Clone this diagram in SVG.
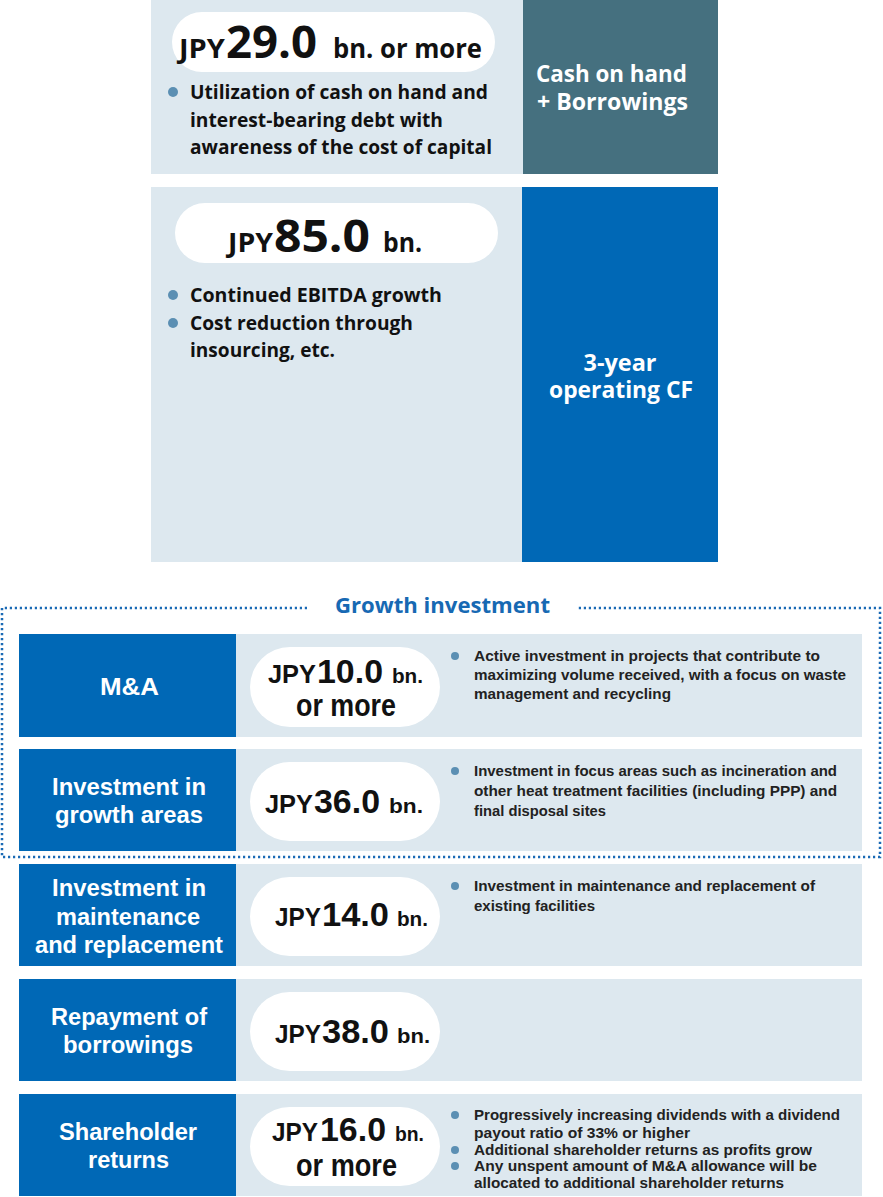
<svg xmlns="http://www.w3.org/2000/svg" width="883" height="1197" viewBox="0 0 883 1197">
<style>
.light{fill:#dde8ef}
.blue{fill:#0068b6}
.teal{fill:#45707f}
.pill{fill:#ffffff}
.dot{fill:#5b8fb3}
.t{font-family:"Open Sans","Liberation Sans",Arial,sans-serif;font-weight:bold;fill:#111}
.tw{font-family:"Open Sans","Liberation Sans",Arial,sans-serif;font-weight:bold;fill:#ffffff;font-size:23px}
.c{font-family:"Liberation Sans",Arial,sans-serif;font-weight:bold;fill:#111}
.cw{font-family:"Liberation Sans",Arial,sans-serif;font-weight:bold;fill:#ffffff;font-size:23.5px}
.d{font-family:"Liberation Sans",Arial,sans-serif;font-weight:bold;fill:#222;font-size:15px}
.gt{font-family:"Open Sans","Liberation Sans",Arial,sans-serif;font-weight:bold;fill:#1769b3;font-size:22px}
</style>
<rect width="883" height="1197" fill="#ffffff"/>

<g id="cash-on-hand">
<rect class="light" x="151" y="0" width="372" height="174"/>
<rect class="teal" x="523" y="0" width="195" height="174"/>
<rect class="pill" x="172" y="12" width="323" height="60" rx="30"/>
<text class="t" x="179" y="58" font-size="27" textLength="46" lengthAdjust="spacingAndGlyphs">JPY</text>
<text class="t" x="226" y="58" font-size="44" textLength="91" lengthAdjust="spacingAndGlyphs">29.0</text>
<text class="t" x="333" y="58" font-size="26" textLength="149" lengthAdjust="spacingAndGlyphs">bn. or more</text>
<circle class="dot" cx="173" cy="92" r="5"/>
<text class="t" x="190" y="99" font-size="19.5" textLength="298" lengthAdjust="spacingAndGlyphs">Utilization of cash on hand and</text>
<text class="t" x="190" y="127" font-size="19.5" textLength="253" lengthAdjust="spacingAndGlyphs">interest-bearing debt with</text>
<text class="t" x="190" y="154" font-size="19.5" textLength="302" lengthAdjust="spacingAndGlyphs">awareness of the cost of capital</text>
<text class="tw" x="536" y="82" textLength="151" lengthAdjust="spacingAndGlyphs">Cash on hand</text>
<text class="tw" x="537" y="110" textLength="151" lengthAdjust="spacingAndGlyphs">+ Borrowings</text>
</g>

<g id="operating-cf">
<rect class="light" x="151" y="187" width="371" height="375"/>
<rect class="blue" x="522" y="187" width="196" height="375"/>
<rect class="pill" x="175" y="203" width="323" height="60" rx="30"/>
<text class="t" x="228" y="252" font-size="27" textLength="45" lengthAdjust="spacingAndGlyphs">JPY</text>
<text class="t" x="274" y="252" font-size="44" textLength="96" lengthAdjust="spacingAndGlyphs">85.0</text>
<text class="t" x="383" y="252" font-size="26" textLength="39" lengthAdjust="spacingAndGlyphs">bn.</text>
<circle class="dot" cx="173" cy="295" r="5"/>
<text class="t" x="190" y="302" font-size="19.5" textLength="252" lengthAdjust="spacingAndGlyphs">Continued EBITDA growth</text>
<circle class="dot" cx="173" cy="323" r="5"/>
<text class="t" x="190" y="330" font-size="19.5" textLength="223" lengthAdjust="spacingAndGlyphs">Cost reduction through</text>
<text class="t" x="190" y="357" font-size="19.5" textLength="145" lengthAdjust="spacingAndGlyphs">insourcing, etc.</text>
<text class="tw" x="620" y="371" text-anchor="middle" textLength="73" lengthAdjust="spacingAndGlyphs">3-year</text>
<text class="tw" x="621" y="398" text-anchor="middle" textLength="144" lengthAdjust="spacingAndGlyphs">operating CF</text>
</g>

<g id="connectors">
<path d="M307,608 H2 V857 H880 V608 H578" fill="none" stroke="#1a6ab5" stroke-width="2.5" stroke-dasharray="2.2 2.8"/>
</g>

<g id="growth-investment-title">
<text class="gt" x="335" y="613" textLength="215" lengthAdjust="spacingAndGlyphs">Growth investment</text>
</g>

<g id="ma">
<rect class="light" x="236" y="634" width="626" height="103"/>
<rect class="blue" x="19" y="634" width="217" height="103"/>
<text class="cw" x="129.5" y="695" text-anchor="middle" font-size="22" textLength="59" lengthAdjust="spacingAndGlyphs">M&amp;A</text>
<rect class="pill" x="250" y="647" width="190" height="80" rx="40"/>
<text class="c" x="268" y="683" font-size="26" textLength="48" lengthAdjust="spacingAndGlyphs">JPY</text>
<text class="c" x="317" y="683" font-size="34" textLength="66" lengthAdjust="spacingAndGlyphs">10.0</text>
<text class="c" x="392" y="683" font-size="21" textLength="31" lengthAdjust="spacingAndGlyphs">bn.</text>
<text class="c" x="296" y="716" font-size="31" textLength="100" lengthAdjust="spacingAndGlyphs">or more</text>
<circle class="dot" cx="455" cy="656" r="4"/>
<text class="d" x="474" y="661" textLength="346" lengthAdjust="spacingAndGlyphs">Active investment in projects that contribute to</text>
<text class="d" x="474" y="680" textLength="372" lengthAdjust="spacingAndGlyphs">maximizing volume received, with a focus on waste</text>
<text class="d" x="474" y="699" textLength="197" lengthAdjust="spacingAndGlyphs">management and recycling</text>
</g>

<g id="growth-areas">
<rect class="light" x="236" y="749" width="626" height="102"/>
<rect class="blue" x="19" y="749" width="217" height="102"/>
<text class="cw" x="129" y="795" text-anchor="middle" textLength="154" lengthAdjust="spacingAndGlyphs">Investment in</text>
<text class="cw" x="129" y="823" text-anchor="middle" textLength="148" lengthAdjust="spacingAndGlyphs">growth areas</text>
<rect class="pill" x="250" y="762" width="190" height="79" rx="39.5"/>
<text class="c" x="265" y="813" font-size="26" textLength="48" lengthAdjust="spacingAndGlyphs">JPY</text>
<text class="c" x="314" y="813" font-size="34" textLength="66" lengthAdjust="spacingAndGlyphs">36.0</text>
<text class="c" x="389" y="813" font-size="21" textLength="34" lengthAdjust="spacingAndGlyphs">bn.</text>
<circle class="dot" cx="455" cy="771" r="4"/>
<text class="d" x="474" y="776" textLength="363" lengthAdjust="spacingAndGlyphs">Investment in focus areas such as incineration and</text>
<text class="d" x="474" y="796" textLength="363" lengthAdjust="spacingAndGlyphs">other heat treatment facilities (including PPP) and</text>
<text class="d" x="474" y="816" textLength="132" lengthAdjust="spacingAndGlyphs">final disposal sites</text>
</g>

<g id="maintenance">
<rect class="light" x="236" y="864" width="626" height="102"/>
<rect class="blue" x="19" y="864" width="217" height="102"/>
<text class="cw" x="129" y="896" text-anchor="middle" textLength="154" lengthAdjust="spacingAndGlyphs">Investment in</text>
<text class="cw" x="128" y="925" text-anchor="middle" textLength="144" lengthAdjust="spacingAndGlyphs">maintenance</text>
<text class="cw" x="129" y="953" text-anchor="middle" textLength="188" lengthAdjust="spacingAndGlyphs">and replacement</text>
<rect class="pill" x="250" y="877" width="190" height="79" rx="39.5"/>
<text class="c" x="275" y="926" font-size="26" textLength="46" lengthAdjust="spacingAndGlyphs">JPY</text>
<text class="c" x="322" y="926" font-size="34" textLength="67" lengthAdjust="spacingAndGlyphs">14.0</text>
<text class="c" x="397" y="926" font-size="21" textLength="31" lengthAdjust="spacingAndGlyphs">bn.</text>
<circle class="dot" cx="455" cy="886" r="4"/>
<text class="d" x="474" y="891" textLength="341" lengthAdjust="spacingAndGlyphs">Investment in maintenance and replacement of</text>
<text class="d" x="474" y="911" textLength="121" lengthAdjust="spacingAndGlyphs">existing facilities</text>
</g>

<g id="repayment">
<rect class="light" x="236" y="979" width="626" height="102"/>
<rect class="blue" x="19" y="979" width="217" height="102"/>
<text class="cw" x="129" y="1025" text-anchor="middle" textLength="156" lengthAdjust="spacingAndGlyphs">Repayment of</text>
<text class="cw" x="128" y="1053" text-anchor="middle" textLength="130" lengthAdjust="spacingAndGlyphs">borrowings</text>
<rect class="pill" x="250" y="992" width="190" height="79" rx="39.5"/>
<text class="c" x="275" y="1043" font-size="26" textLength="46" lengthAdjust="spacingAndGlyphs">JPY</text>
<text class="c" x="322" y="1043" font-size="34" textLength="67" lengthAdjust="spacingAndGlyphs">38.0</text>
<text class="c" x="397" y="1043" font-size="21" textLength="33" lengthAdjust="spacingAndGlyphs">bn.</text>
</g>

<g id="shareholder-returns">
<rect class="light" x="236" y="1094" width="626" height="102"/>
<rect class="blue" x="19" y="1094" width="217" height="102"/>
<text class="cw" x="128" y="1140" text-anchor="middle" textLength="138" lengthAdjust="spacingAndGlyphs">Shareholder</text>
<text class="cw" x="128.5" y="1168" text-anchor="middle" textLength="81" lengthAdjust="spacingAndGlyphs">returns</text>
<rect class="pill" x="250" y="1107" width="190" height="79" rx="39.5"/>
<text class="c" x="272" y="1141" font-size="26" textLength="46" lengthAdjust="spacingAndGlyphs">JPY</text>
<text class="c" x="320" y="1141" font-size="34" textLength="66" lengthAdjust="spacingAndGlyphs">16.0</text>
<text class="c" x="395" y="1141" font-size="21" textLength="29" lengthAdjust="spacingAndGlyphs">bn.</text>
<text class="c" x="296" y="1176" font-size="31" textLength="101" lengthAdjust="spacingAndGlyphs">or more</text>
<circle class="dot" cx="455" cy="1115" r="4"/>
<text class="d" x="474" y="1120" textLength="366" lengthAdjust="spacingAndGlyphs">Progressively increasing dividends with a dividend</text>
<text class="d" x="474" y="1138" textLength="216" lengthAdjust="spacingAndGlyphs">payout ratio of 33% or higher</text>
<circle class="dot" cx="455" cy="1150" r="4"/>
<text class="d" x="474" y="1155" textLength="338" lengthAdjust="spacingAndGlyphs">Additional shareholder returns as profits grow</text>
<circle class="dot" cx="455" cy="1166" r="4"/>
<text class="d" x="474" y="1171" textLength="343" lengthAdjust="spacingAndGlyphs">Any unspent amount of M&amp;A allowance will be</text>
<text class="d" x="474" y="1188" textLength="310" lengthAdjust="spacingAndGlyphs">allocated to additional shareholder returns</text>
</g>
</svg>
